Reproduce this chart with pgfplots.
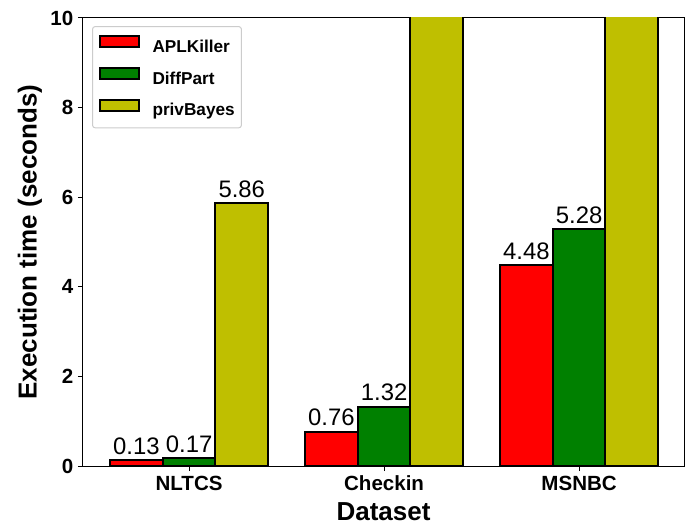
\documentclass[border=0pt]{standalone}
\usepackage{fontspec}
\setmainfont{Liberation Sans}
\usepackage{pgfplots}
\pgfplotsset{compat=1.18}
\definecolor{myred}{RGB}{255,0,0}
\definecolor{mygreen}{RGB}{0,128,0}
\definecolor{myyellow}{RGB}{191,191,0}
\definecolor{legframe}{RGB}{204,204,204}
\pgfplotsset{mylegend/.style={legend image code/.code={\draw[##1, sharp corners, line width=1.5pt] (0pt,0.4pt) rectangle (29pt,8.8pt);}}}
\begin{document}
\begin{tikzpicture}
\begin{axis}[
 scale only axis, width=450.75pt, height=336pt,
 xmin=-0.544, xmax=2.538, ymin=0, ymax=10,
 ybar=0pt, bar width=0.27,
 xtick={0,1,2}, xticklabels={NLTCS,Checkin,MSNBC},
 ytick={0,2,4,6,8,10},
 tick pos=left, tick align=outside, major tick length=3.75pt,
 tick style={black, line width=0.75pt},
 axis line style={line width=0.75pt},
 /pgf/number format/assume math mode=true,
 tick label style={font=\fontsize{15.4}{18}\selectfont\bfseries},
 xlabel={Dataset}, ylabel={Execution time (seconds)},
 label style={font=\fontsize{19.5}{23}\selectfont\bfseries},
 xlabel style={at={(axis description cs:0.5,-0.103)}, anchor=center},
 ylabel style={at={(axis description cs:-0.0882,0.5)}, anchor=center},
 legend style={at={(axis description cs:0.015,0.982)}, anchor=north west,
   draw=legframe, rounded corners=2pt, line width=0.75pt, fill=white,
   inner xsep=5pt, inner ysep=6.4pt, row sep=8.25pt,
   font=\fontsize{12.9}{15}\selectfont\bfseries,
   nodes={inner sep=0pt, text height=9.5pt, text depth=2.5pt},
   /tikz/every odd column/.append style={column sep=9.5pt}},
 legend cell align=left,
 point meta=explicit symbolic,
 nodes near coords,
 nodes near coords style={font=\fontsize{17.9}{20}\selectfont, text=black, anchor=base, inner sep=0pt, yshift=4.5pt},
]
\addplot[fill=myred, draw=black, line width=1.5pt, mylegend] coordinates {(0,0.13)[0.13] (1,0.76)[0.76] (2,4.48)[4.48]};
\addplot[fill=mygreen, draw=black, line width=1.5pt, mylegend] coordinates {(0,0.17)[0.17] (1,1.32)[1.32] (2,5.28)[5.28]};
\addplot[fill=myyellow, draw=black, line width=1.5pt, mylegend] coordinates {(0,5.86)[5.86] (1,20)[] (2,20)[]};
\legend{APLKiller,DiffPart,privBayes}
\end{axis}
\pgfresetboundingbox
\path[use as bounding box] ([shift={(-62.25pt,-45pt)}]current axis.south west) rectangle ([shift={(3.75pt,13.5pt)}]current axis.north east);
\end{tikzpicture}
\end{document}
